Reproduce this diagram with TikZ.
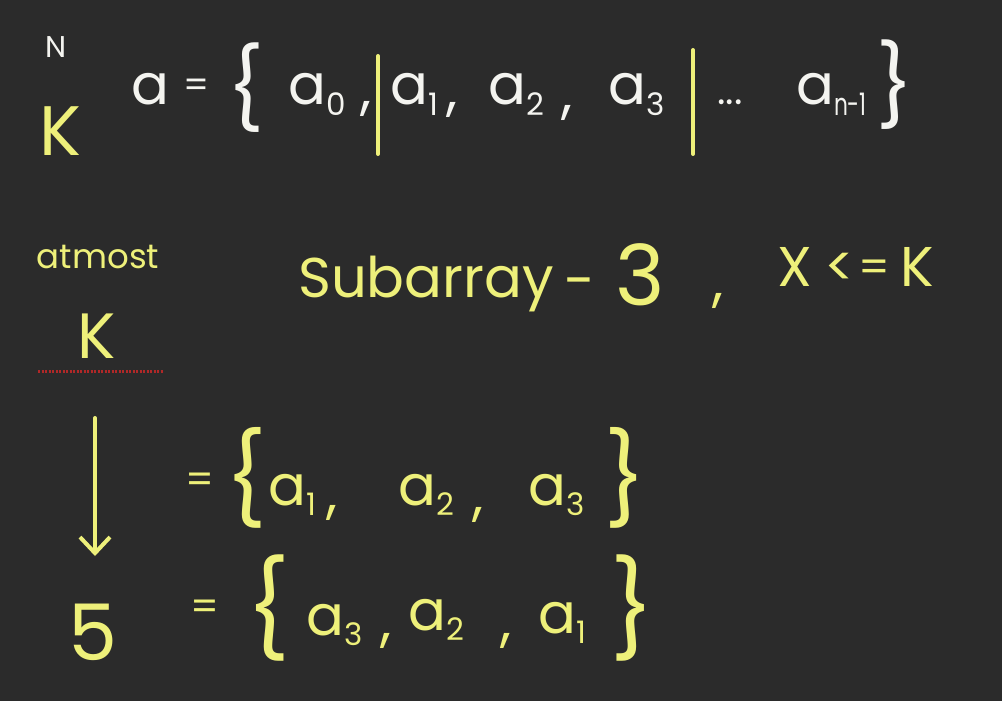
\documentclass[tikz,border=0pt]{standalone}
\usepackage{fontspec}
\usepackage{graphicx}
\setmainfont{Poppins}
\usetikzlibrary{arrows.meta}
\definecolor{board}{HTML}{2B2B2B}
\definecolor{chalk}{HTML}{F4F4F0}
\definecolor{hiyel}{HTML}{EEF07A}
\definecolor{redmark}{HTML}{B02828}
\newcommand{\lowidx}[1]{\raisebox{-0.35ex}{\fontsize{31}{31}\selectfont #1}}
\newcommand{\fsz}[1]{\fontsize{#1}{#1}\selectfont}
\tikzset{
  glyph/.style={inner sep=0pt, anchor=base, font=\fsz{56}},
  wtx/.style={glyph, text=chalk},
  ytx/.style={glyph, text=hiyel},
  bracetx/.style={inner sep=0pt, anchor=center, font=\fsz{80}},
  bar/.style={draw=hiyel, line width=4pt, line cap=round},
  downarrow/.style={draw=hiyel, line width=4pt, line cap=round, -{Straight Barb[length=16pt,width=30pt,line width=4pt]}},
  redline/.style={draw=redmark, line width=3pt, dash pattern=on 2pt off 1.5pt}
}
\begin{document}
\begin{tikzpicture}[x=1pt,y=-1pt]
\fill[board] (0,0) rectangle (1002,701);
\useasboundingbox (0,0) rectangle (1002,701);

% row 1
\node[wtx, font=\fsz{30}] (N) at (56,58) {N};
\node[ytx, font=\fsz{70}] (K1) at (60,155) {K};
\node[wtx] (avar) at (150,105) {a};
\node[wtx, font=\fsz{36}] (eq1) at (197,98) {=};
\node[bracetx, text=chalk] (lb1) at (246,88) {\{};
\node[wtx, anchor=base west] (a0) at (288,105) {a\lowidx{0}};
\node[wtx] (c1) at (366,108) {,};
\node[wtx, anchor=base west] (a1) at (390,105) {a\lowidx{1}};
\node[wtx] (c2) at (452,110) {,};
\node[wtx, anchor=base west] (a2) at (488,105) {a\lowidx{2}};
\node[wtx] (c3) at (567,112) {,};
\node[wtx, anchor=base west] (a3) at (608,105) {a\lowidx{3}};
\node[wtx, font=\fsz{40}] (dots) at (730,105) {...};
\node[wtx, anchor=base west] (an) at (796,105) {a\lowidx{\scalebox{0.7}[1]{n-1}}};
\node[bracetx, text=chalk] (rb1) at (895,85) {\}};
\coordinate (bar1t) at (378,56);
\coordinate (bar1b) at (378,154);
\coordinate (bar2t) at (693,50);
\coordinate (bar2b) at (693,154);
\draw[bar] (bar1t) -- (bar1b);
\draw[bar] (bar2t) -- (bar2b);

% row 2
\node[ytx, font=\fsz{34}] (atmost) at (98,268) {atmost};
\node[ytx, font=\fsz{64}] (K2) at (97,358) {K};
\coordinate (rd1) at (38,371);
\coordinate (rd2) at (163,371);
\draw[redline] (rd1) -- (rd2);
\node[ytx, anchor=base west] (subarr) at (298,297) {Subarray};
\node[ytx] (dash) at (580,300) {-};
\node[ytx, font=\fsz{84}] (three) at (640,305) {3};
\node[ytx] (c4) at (718,300) {,};
\node[ytx] (X) at (795,286) {X};
\node[ytx] (lt) at (840,286) {<};
\node[ytx, font=\fsz{44}] (eq2) at (874,282) {=};
\node[ytx] (K3) at (917,286) {K};

% row 3
\node[ytx, font=\fsz{40}] (eq3) at (200,493) {=};
\node[bracetx, text=hiyel, font=\fsz{90}] (lb3) at (246,478) {\{};
\node[ytx, anchor=base west] (b1) at (268,505) {a\lowidx{1}};
\node[ytx] (c5) at (332,512) {,};
\node[ytx, anchor=base west] (b2) at (398,505) {a\lowidx{2}};
\node[ytx] (c6) at (478,514) {,};
\node[ytx, anchor=base west] (b3) at (528,505) {a\lowidx{3}};
\node[bracetx, text=hiyel, font=\fsz{90}] (rb3) at (625,478) {\}};

% arrow
\coordinate (arrtop) at (95,418);
\coordinate (arrbot) at (95,556);
\draw[downarrow] (arrtop) -- (arrbot);

% row 4
\node[ytx, font=\fsz{78}] (five) at (93,660) {5};
\node[ytx, font=\fsz{40}] (eq4) at (205,620) {=};
\node[bracetx, text=hiyel, font=\fsz{95}] (lb4) at (268,608) {\{};
\node[ytx, anchor=base west] (d3) at (306,635) {a\lowidx{3}};
\node[ytx] (c7) at (386,640) {,};
\node[ytx, anchor=base west] (d2) at (408,630) {a\lowidx{2}};
\node[ytx] (c8) at (506,640) {,};
\node[ytx, anchor=base west] (d1) at (538,633) {a\lowidx{1}};
\node[bracetx, text=hiyel, font=\fsz{95}] (rb4) at (632,608) {\}};
\end{tikzpicture}
\end{document}
